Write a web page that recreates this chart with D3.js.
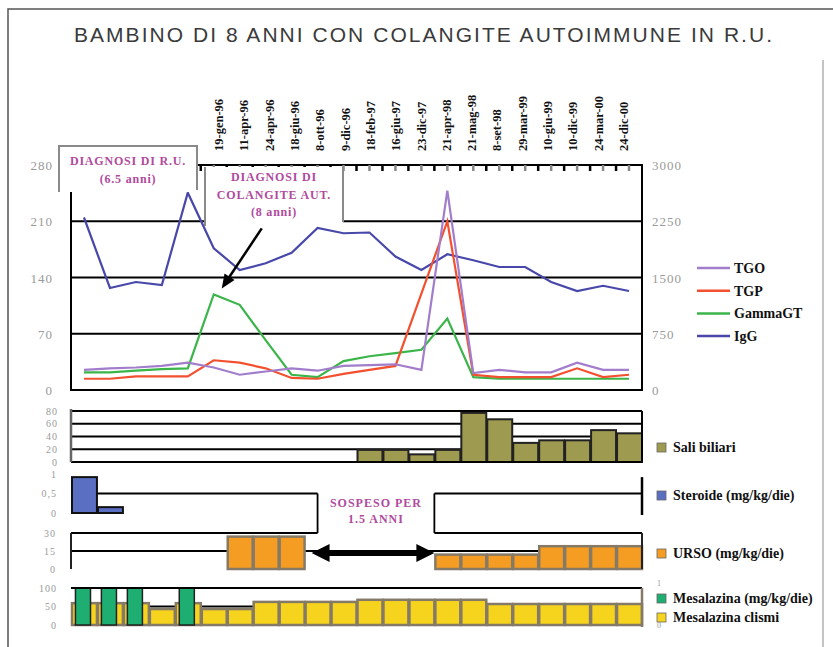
<!DOCTYPE html>
<html>
<head>
<meta charset="utf-8">
<script src="https://cdn.jsdelivr.net/npm/d3@7"></script>
<style>
  body { margin: 0; background: #fff; }
  svg { display: block; }
</style>
</head>
<body>
<div id="chart"></div>
<script>
//////// DATA ////////
var title = "BAMBINO DI 8 ANNI CON COLANGITE AUTOIMMUNE IN R.U.";
var nCat = 22;
var dateLabels = ["19-gen-96", "11-apr-96", "24-apr-96", "18-giu-96", "8-ott-96", "9-dic-96",
  "18-feb-97", "16-giu-97", "23-dic-97", "21-apr-98", "21-mag-98", "8-set-98",
  "29-mar-99", "10-giu-99", "10-dic-99", "24-mar-00", "24-dic-00"];

var tgo = [25, 27, 28, 30, 34, 28, 19, 23, 27, 24, 30, 31, 32, 25, 248, 21, 25, 22, 22, 34, 25, 25];
var tgp = [14, 14, 17, 17, 17, 37, 34, 27, 15, 14, 20, 25, 30, 120, 210, 19, 16, 16, 16, 27, 16, 19];
var ggt = [22, 22, 24, 26, 27, 119, 106, 62, 19, 16, 36, 42, 46, 50, 89, 16, 14, 14, 14, 14, 14, 14];
var igg = [2300, 1360, 1440, 1400, 2630, 1890, 1600, 1690, 1830, 2160, 2090, 2100, 1780, 1600, 1810, 1730, 1640, 1640, 1440, 1320, 1390, 1320];

var sali    = [0, 0, 0, 0, 0, 0, 0, 0, 0, 0, 0, 19, 19, 12, 19, 77, 67, 30, 34, 34, 50, 45];
var steroid = [0.92, 0.15, 0, 0, 0, 0, 0, 0, 0, 0, 0, 0, 0, 0, 0, 0, 0, 0, 0, 0, 0, 0];
var urso    = [0, 0, 0, 0, 0, 0, 27, 27, 27, 0, 0, 0, 0, 0, 12, 12, 12, 12, 19, 19, 19, 19];
var mesa    = [100, 100, 100, 0, 100, 0, 0, 0, 0, 0, 0, 0, 0, 0, 0, 0, 0, 0, 0, 0, 0, 0];
var clismi  = [0.52, 0.52, 0.52, 0.38, 0.52, 0.38, 0.38, 0.55, 0.55, 0.55, 0.55, 0.6, 0.6, 0.6, 0.6, 0.6, 0.5, 0.5, 0.5, 0.5, 0.5, 0.5];

var leftTicks = [0, 70, 140, 210, 280];
var rightTicks = [0, 750, 1500, 2250, 3000];
var saliTicks = [0, 20, 40, 60, 80];
var steroidTicks = [0, 0.5, 1];
var ursoTicks = [0, 15, 30];
var mesaTicks = [0, 50, 100];

//////// CANVAS ////////
var width = 833, height = 647;
var svg = d3.select("#chart").append("svg").attr("width", width).attr("height", height);

var serif = "'Liberation Serif', 'Times New Roman', serif";
var magenta = "#b04a9e";
var axisGrey = "#9a9a9a";

// frame
svg.append("path").attr("d", "M8,647 V9 H833").attr("fill", "none")
  .attr("stroke", "#555").attr("stroke-width", 1.5);
svg.append("line").attr("x1", 823).attr("x2", 823).attr("y1", 60).attr("y2", 647)
  .attr("stroke", "#888").attr("stroke-width", 1);

svg.append("text").attr("x", 74).attr("y", 42).attr("textLength", 698).attr("lengthAdjust", "spacing")
  .style("font-family", "'Liberation Sans', Arial, sans-serif").style("font-size", "21px")
  .style("fill", "#3a3a3a").text(title);

//////// SCALES ////////
var L = 71, R = 642;
var x = d3.scaleBand().domain(d3.range(nCat)).range([L, R]);
var xc = function(i) { return x(i) + x.bandwidth() / 2; };
var yL = d3.scaleLinear().domain([0, 280]).range([390, 165]);
var yR = d3.scaleLinear().domain([0, 3000]).range([390, 165]);
var xLab = d3.scalePoint().domain(dateLabels).range([223, 628]);

//////// MAIN CHART ////////
var main = svg.append("g");

main.selectAll(".grid").data(leftTicks.slice(1, 4)).enter().append("line")
  .attr("x1", L).attr("x2", R).attr("y1", yL).attr("y2", yL)
  .attr("stroke", "#000").attr("stroke-width", 2);
main.append("rect").attr("x", L).attr("y", yL(280)).attr("width", R - L).attr("height", yL(0) - yL(280))
  .attr("fill", "none").attr("stroke", "#000").attr("stroke-width", 2);

// top ticks
var tickPos = [];
d3.range(nCat).forEach(function(i) { tickPos.push({ x: x(i), c: "#000" }); tickPos.push({ x: xc(i), c: "#888" }); });
main.selectAll(".tk").data(tickPos).enter().append("line")
  .attr("x1", function(d) { return d.x; }).attr("x2", function(d) { return d.x; })
  .attr("y1", yL(280)).attr("y2", yL(280) + 6)
  .attr("stroke", function(d) { return d.c; }).attr("stroke-width", 2.5);

// axis labels
main.selectAll(".yl").data(leftTicks).enter().append("text")
  .attr("x", 53).attr("y", function(d) { return yL(d) + 5; }).attr("text-anchor", "end")
  .style("font-family", serif).style("font-size", "13px").style("letter-spacing", "1px")
  .style("fill", axisGrey).text(function(d) { return d; });
main.selectAll(".yr").data(rightTicks).enter().append("text")
  .attr("x", 652).attr("y", function(d) { return yR(d) + 5; })
  .style("font-family", serif).style("font-size", "13px").style("letter-spacing", "1px")
  .style("fill", axisGrey).text(function(d) { return d; });

// date labels (read bottom to top)
main.selectAll(".dl").data(dateLabels).enter().append("text")
  .attr("transform", function(d) { return "translate(" + xLab(d) + ",151) rotate(-90)"; })
  .attr("text-anchor", "start")
  .style("font-family", serif).style("font-size", "12.5px").style("font-weight", "bold")
  .style("fill", "#111").text(function(d) { return d; });

// lines
var series = [
  { name: "TGO", values: tgo, color: "#a27dcc", y: yL },
  { name: "TGP", values: tgp, color: "#f2502e", y: yL },
  { name: "GammaGT", values: ggt, color: "#3bb54a", y: yL },
  { name: "IgG", values: igg, color: "#4848aa", y: yR }
];
series.slice().reverse().forEach(function(s) {
  var line = d3.line().x(function(d, i) { return xc(i); }).y(function(d) { return s.y(d); });
  main.append("path").datum(s.values).attr("d", line)
    .attr("fill", "none").attr("stroke", s.color).attr("stroke-width", 2.2);
});

// annotation boxes
main.append("rect").attr("x", 59).attr("y", 146).attr("width", 138).attr("height", 46).attr("fill", "#fff");
main.append("path").attr("d", "M59,192 V146 H197 V190").attr("fill", "none")
  .attr("stroke", "#8a8a8a").attr("stroke-width", 2);
main.append("rect").attr("x", 205).attr("y", 167).attr("width", 138).attr("height", 56).attr("fill", "#fff");
main.append("path").attr("d", "M205,167 V226 M343,167 V222").attr("fill", "none")
  .attr("stroke", "#8a8a8a").attr("stroke-width", 2);

function magentaText(lines, cx, y0, dy) {
  main.selectAll(null).data(lines).enter().append("text")
    .attr("x", cx).attr("y", function(d, i) { return y0 + i * dy; }).attr("text-anchor", "middle")
    .style("font-family", serif).style("font-size", "12px").style("font-weight", "bold")
    .style("letter-spacing", "0.8px")
    .style("fill", magenta).text(function(d) { return d; });
}
magentaText(["DIAGNOSI DI R.U.", "(6.5 anni)"], 128, 165, 18);
magentaText(["DIAGNOSI DI", "COLANGITE AUT.", "(8 anni)"], 274, 181, 17.5);

// arrow to GammaGT peak
var tip = [xc(5) + 8, yL(ggt[5]) - 6], tail = [tip[0] + 40, tip[1] - 60];
var dx = tip[0] - tail[0], dy = tip[1] - tail[1], len = Math.sqrt(dx * dx + dy * dy);
var ux = dx / len, uy = dy / len;
main.append("line").attr("x1", tail[0]).attr("y1", tail[1])
  .attr("x2", tip[0] - ux * 10).attr("y2", tip[1] - uy * 10)
  .attr("stroke", "#000").attr("stroke-width", 2.5);
main.append("path").attr("d", "M" + tip[0] + "," + tip[1] +
  "L" + (tip[0] - ux * 14 - uy * 6) + "," + (tip[1] - uy * 14 + ux * 6) +
  "L" + (tip[0] - ux * 14 + uy * 6) + "," + (tip[1] - uy * 14 - ux * 6) + "Z").attr("fill", "#000");

// legend
var leg = main.selectAll(".leg").data(series).enter().append("g")
  .attr("transform", function(d, i) { return "translate(697," + (268 + i * 22.7) + ")"; });
leg.append("line").attr("x1", 0).attr("x2", 33).attr("stroke", function(d) { return d.color; }).attr("stroke-width", 2.5);
leg.append("text").attr("x", 37).attr("y", 5)
  .style("font-family", serif).style("font-size", "14px").style("font-weight", "bold")
  .style("fill", "#111").text(function(d) { return d.name; });

//////// LOWER PANELS ////////
var low = svg.append("g");

function smallLabels(ticks, scale, fmt, xr) {
  low.selectAll(null).data(ticks).enter().append("text")
    .attr("x", xr).attr("y", function(d) { return scale(d) + 3.5; }).attr("text-anchor", "end")
    .style("font-family", serif).style("font-size", "10px").style("letter-spacing", "1px")
    .style("fill", axisGrey).text(fmt);
}
function legendBox(y, color, label) {
  low.append("rect").attr("x", 657).attr("y", y - 9).attr("width", 9).attr("height", 9)
    .attr("fill", color).attr("stroke", "#666").attr("stroke-width", 0.8);
  low.append("text").attr("x", 673).attr("y", y)
    .style("font-family", serif).style("font-size", "14px").style("font-weight", "bold")
    .style("fill", "#111").text(label);
}
function idx(arr) { return d3.range(arr.length).filter(function(i) { return arr[i] > 0; }); }

// Sali biliari
var yS = d3.scaleLinear().domain([0, 80]).range([462, 411]);
low.selectAll(null).data(saliTicks.slice(1)).enter().append("line")
  .attr("x1", L).attr("x2", R).attr("y1", yS).attr("y2", yS).attr("stroke", "#000").attr("stroke-width", 1.8);
low.selectAll(null).data(idx(sali)).enter().append("rect")
  .attr("x", function(i) { return x(i) + 1; }).attr("width", x.bandwidth() - 1)
  .attr("y", function(i) { return yS(sali[i]); }).attr("height", function(i) { return yS(0) - yS(sali[i]); })
  .attr("fill", "#9e9a50").attr("stroke", "#222").attr("stroke-width", 2);
low.append("line").attr("x1", L).attr("x2", R).attr("y1", yS(0)).attr("y2", yS(0)).attr("stroke", "#000").attr("stroke-width", 2);
low.append("line").attr("x1", L).attr("x2", L).attr("y1", yS(80) - 2).attr("y2", yS(0)).attr("stroke", "#666").attr("stroke-width", 2.5);
low.append("line").attr("x1", R).attr("x2", R).attr("y1", yS(80)).attr("y2", yS(0)).attr("stroke", "#000").attr("stroke-width", 2);
smallLabels(saliTicks, yS, function(d) { return d; }, 58);
legendBox(452, "#9e9a50", "Sali biliari");

// Steroide
var ySt = d3.scaleLinear().domain([0, 1]).range([513, 474]);
var ySu = d3.scaleLinear().domain([0, 30]).range([569, 533]);
var gapL = xc(9), gapR = x(14);
low.append("path").attr("d",
  "M" + L + "," + ySt(0.5) + "H" + gapL + "M" + gapR + "," + ySt(0.5) + "H" + R +
  "M" + L + "," + ySu(30) + "H" + gapL + "M" + gapR + "," + ySu(30) + "H" + R +
  "M" + gapL + "," + ySt(0.5) + "V" + ySu(30) + "M" + gapR + "," + ySt(0.5) + "V" + ySu(30))
  .attr("fill", "none").attr("stroke", "#000").attr("stroke-width", 1.8);
low.selectAll(null).data(idx(steroid)).enter().append("rect")
  .attr("x", function(i) { return x(i) + 1; }).attr("width", x.bandwidth() - 1)
  .attr("y", function(i) { return ySt(steroid[i]); }).attr("height", function(i) { return ySt(0) - ySt(steroid[i]); })
  .attr("fill", "#5a6ec2").attr("stroke", "#111").attr("stroke-width", 2);
low.append("line").attr("x1", R).attr("x2", R).attr("y1", ySt(0.92)).attr("y2", ySt(0) + 2).attr("stroke", "#000").attr("stroke-width", 2.5);
smallLabels(steroidTicks, ySt, function(d) { return d === 0.5 ? "0,5" : d; }, 57);
legendBox(500, "#5a6ec2", "Steroide (mg/kg/die)");

low.selectAll(null).data(["SOSPESO PER", "1.5 ANNI"]).enter().append("text")
  .attr("x", (gapL + gapR) / 2).attr("y", function(d, i) { return 507 + i * 16; }).attr("text-anchor", "middle")
  .style("font-family", serif).style("font-size", "12px").style("font-weight", "bold")
  .style("letter-spacing", "1px")
  .style("fill", magenta).text(function(d) { return d; });

// URSO
low.append("line").attr("x1", L).attr("x2", R).attr("y1", ySu(15)).attr("y2", ySu(15)).attr("stroke", "#000").attr("stroke-width", 1.8);
low.selectAll(null).data(idx(urso)).enter().append("rect")
  .attr("x", function(i) { return x(i) + 1; }).attr("width", x.bandwidth() - 1)
  .attr("y", function(i) { return ySu(urso[i]); }).attr("height", function(i) { return ySu(0) - ySu(urso[i]); })
  .attr("fill", "#f59c22").attr("stroke", "#857a68").attr("stroke-width", 2.5);
low.append("line").attr("x1", L).attr("x2", L).attr("y1", ySu(30)).attr("y2", ySu(0)).attr("stroke", "#222").attr("stroke-width", 2);
low.append("line").attr("x1", R).attr("x2", R).attr("y1", ySu(30)).attr("y2", ySu(0)).attr("stroke", "#222").attr("stroke-width", 2);
smallLabels(ursoTicks, ySu, function(d) { return d; }, 56);
legendBox(558, "#f59c22", "URSO (mg/kg/die)");

// double arrow (suspension)
var ay = ySu(15) + 2, a0 = xc(9) - 6, a1 = x(14);
low.append("path").attr("d",
  "M" + a0 + "," + ay + "L" + (a0 + 18) + "," + (ay - 9) + "V" + (ay - 3) + "H" + (a1 - 18) + "V" + (ay - 9) +
  "L" + a1 + "," + ay + "L" + (a1 - 18) + "," + (ay + 9) + "V" + (ay + 3) + "H" + (a0 + 18) + "V" + (ay + 9) + "Z")
  .attr("fill", "#000");

// Mesalazina
var yM = d3.scaleLinear().domain([0, 100]).range([625, 588]);
var yC = d3.scaleLinear().domain([0, 1]).range([625, 583]);
low.append("line").attr("x1", L).attr("x2", R).attr("y1", yM(50)).attr("y2", yM(50)).attr("stroke", "#000").attr("stroke-width", 1.8);
low.selectAll(null).data(idx(clismi)).enter().append("rect")
  .attr("x", function(i) { return x(i) + 1; }).attr("width", x.bandwidth() - 1)
  .attr("y", function(i) { return yC(clismi[i]); }).attr("height", function(i) { return yC(0) - yC(clismi[i]); })
  .attr("fill", "#f6d31c").attr("stroke", "#857a68").attr("stroke-width", 2.5);
var gw = x.bandwidth() * 0.58;
low.selectAll(null).data(idx(mesa)).enter().append("rect")
  .attr("x", function(i) { return xc(i) - gw / 2 - 1; }).attr("width", gw)
  .attr("y", function(i) { return yM(mesa[i]); }).attr("height", function(i) { return yM(0) - yM(mesa[i]); })
  .attr("fill", "#1fae72").attr("stroke", "#222").attr("stroke-width", 1.5);
low.append("line").attr("x1", L).attr("x2", R).attr("y1", yM(100)).attr("y2", yM(100)).attr("stroke", "#000").attr("stroke-width", 2);
low.append("line").attr("x1", R).attr("x2", R).attr("y1", yM(100)).attr("y2", yM(0) + 2).attr("stroke", "#857a68").attr("stroke-width", 2.5);
smallLabels(mesaTicks, yM, function(d) { return d; }, 57);
low.selectAll(null).data([0, 1]).enter().append("text")
  .attr("x", 657).attr("y", function(d) { return yC(d) + 3; })
  .style("font-family", serif).style("font-size", "8px").style("fill", axisGrey).text(function(d) { return d; });
legendBox(603, "#1fae72", "Mesalazina (mg/kg/die)");
legendBox(622, "#f6d31c", "Mesalazina clismi");
</script>
</body>
</html>
